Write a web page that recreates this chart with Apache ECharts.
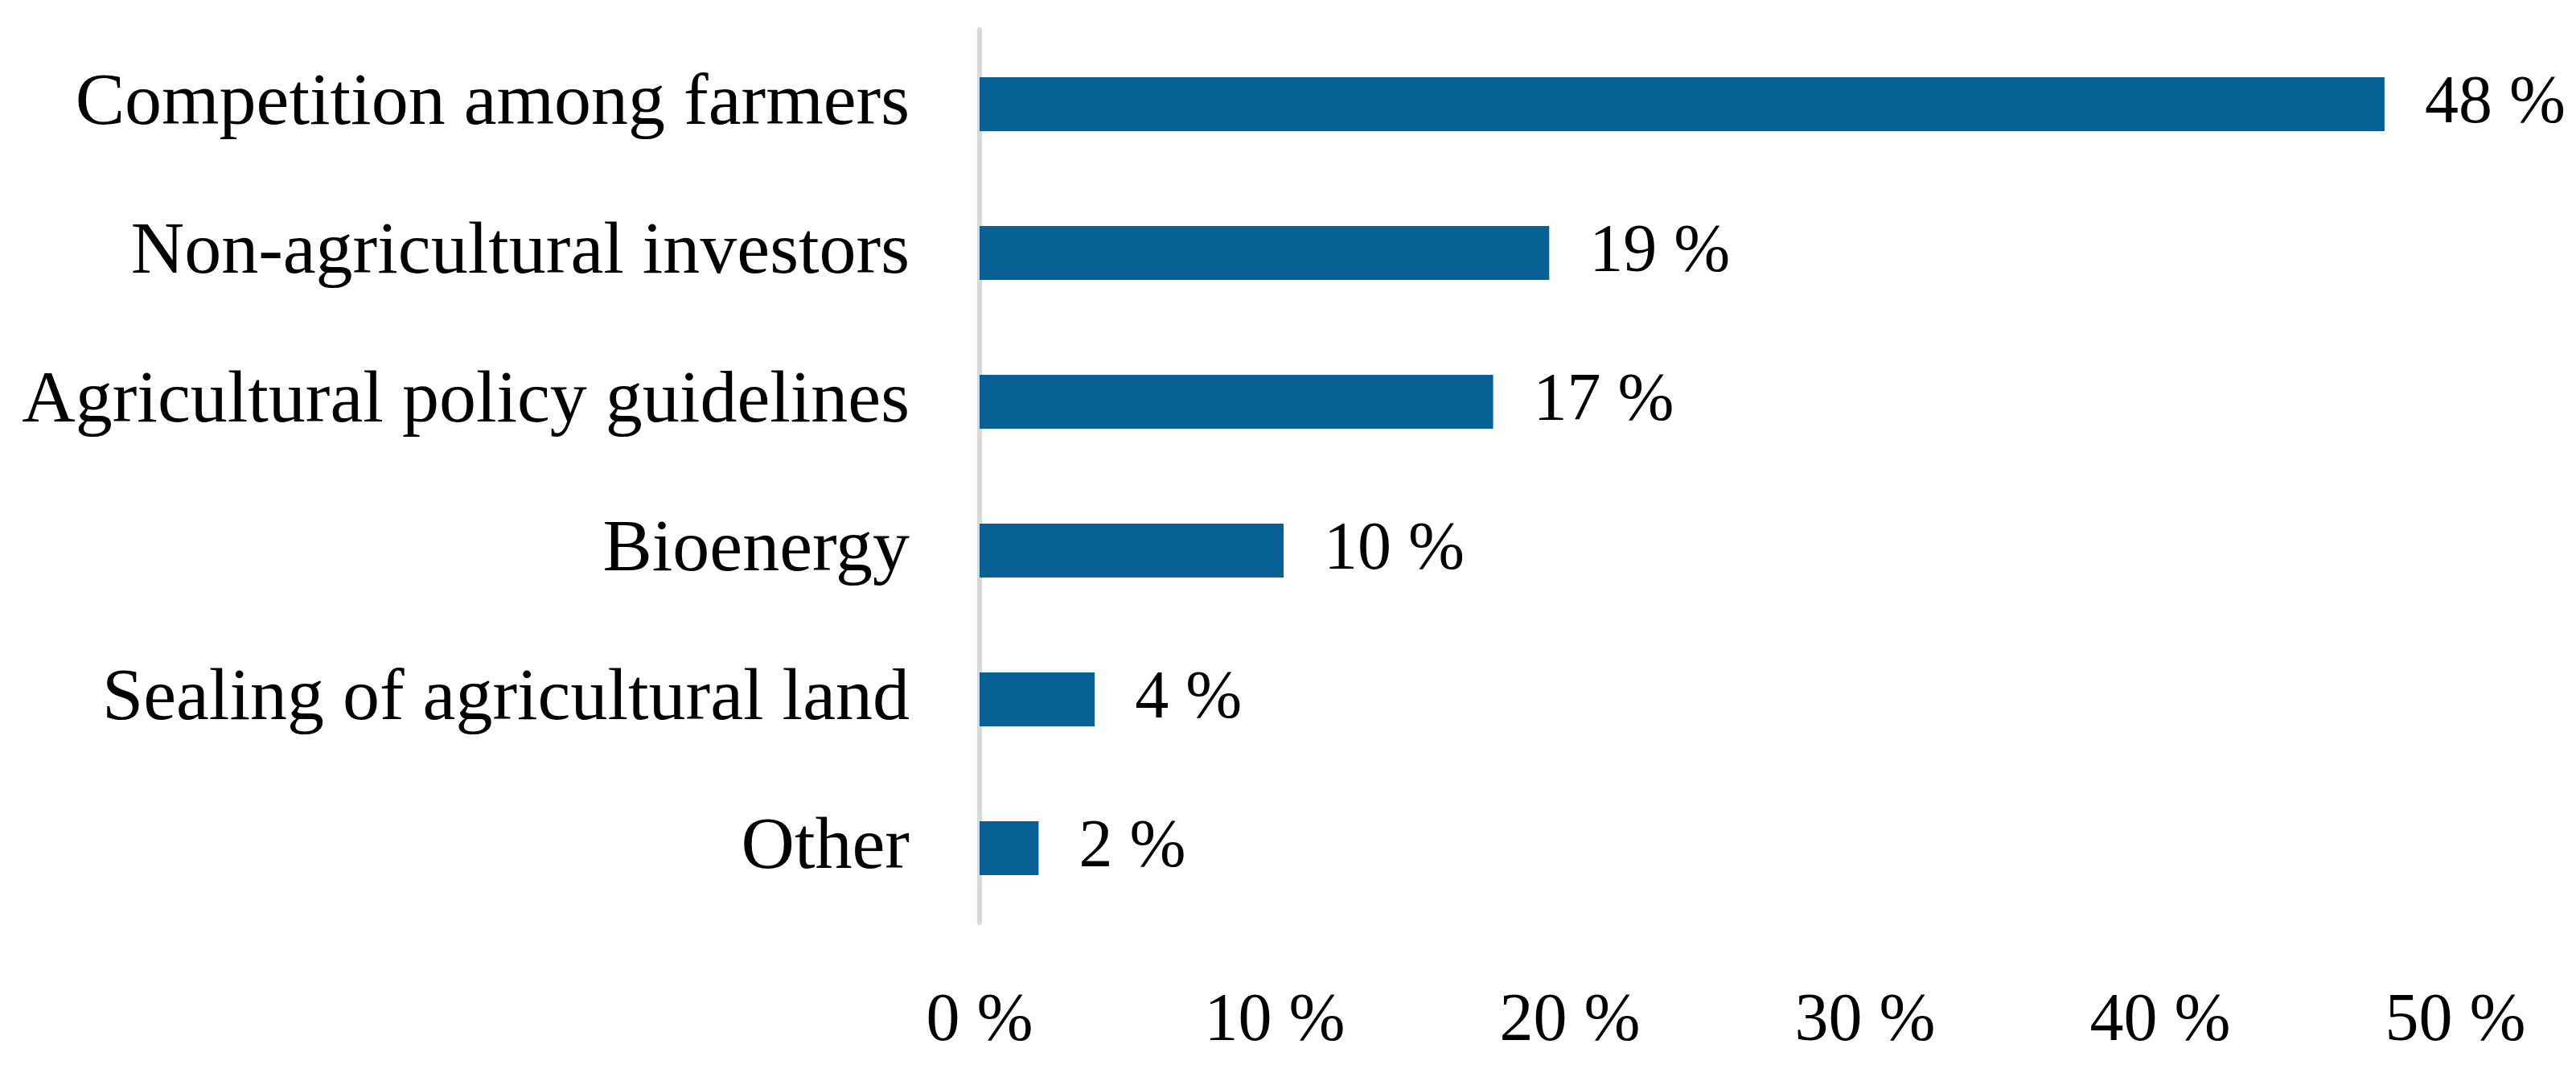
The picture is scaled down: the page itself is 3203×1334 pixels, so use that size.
<!DOCTYPE html>
<html>
<head>
<meta charset="utf-8">
<script src="https://cdn.jsdelivr.net/npm/echarts@6/dist/echarts.min.js"></script>
<style>
html,body{margin:0;padding:0;background:#fff;}
#chart{width:3203px;height:1334px;}
</style>
</head>
<body>
<div id="chart"></div>
<script>
const categories = [
  "Competition among farmers",
  "Non-agricultural investors",
  "Agricultural policy guidelines",
  "Bioenergy",
  "Sealing of agricultural land",
  "Other"
];
const shares = [47.6, 19.3, 17.4, 10.3, 3.9, 2.0];
const axisMin = 0;
const axisMax = 50;
const axisStep = 10;

const chart = echarts.init(document.getElementById('chart'), null, {renderer: 'canvas'});
chart.setOption({
  backgroundColor: '#ffffff',
  animation: false,
  grid: {left: 1218, right: 150, top: 37, bottom: 187, containLabel: false},
  xAxis: {
    type: 'value',
    min: axisMin,
    max: axisMax,
    interval: axisStep,
    axisLine: {show: false},
    axisTick: {show: false},
    splitLine: {show: false},
    axisLabel: {
      formatter: '{value} %',
      fontFamily: 'Liberation Serif',
      fontSize: 84,
      color: '#000',
      margin: 82
    }
  },
  yAxis: {
    type: 'category',
    inverse: true,
    data: categories,
    axisLine: {show: true, lineStyle: {color: '#d9d9d9', width: 6}},
    axisTick: {show: false},
    axisLabel: {
      fontFamily: 'Liberation Serif',
      fontSize: 92,
      color: '#000',
      margin: 87
    }
  },
  series: [{
    type: 'bar',
    data: shares,
    barWidth: 67,
    itemStyle: {color: '#086195'},
    label: {
      show: true,
      position: 'right',
      distance: 50,
      formatter: p => Math.round(p.value) + ' %',
      fontFamily: 'Liberation Serif',
      fontSize: 84,
      color: '#000'
    }
  }]
});
</script>
</body>
</html>
